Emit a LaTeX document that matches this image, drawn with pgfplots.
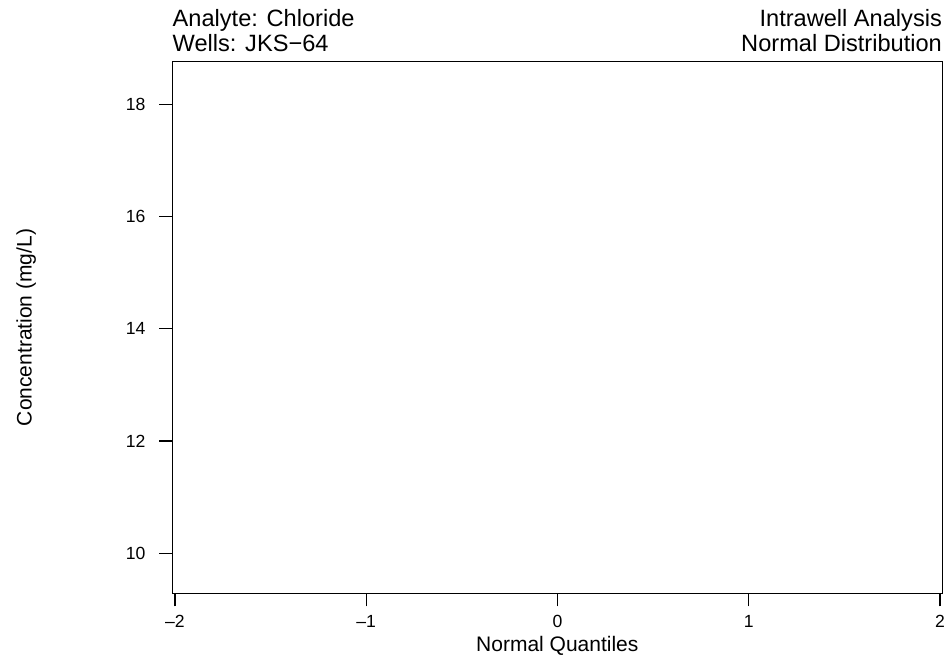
\documentclass[border=0pt]{standalone}
\usepackage{pgfplots}
\pgfplotsset{compat=1.18}
\usepackage{fontspec}
\setmainfont{Liberation Sans}

\begin{document}
\begin{tikzpicture}[x=0.5pt,y=0.5pt]
\useasboundingbox (0,0) rectangle (949,661);
\begin{axis}[
  at={(86.15pt,33.85pt)}, anchor=south west,
  width=385pt, height=265.8pt, scale only axis,
  xmin=-2.014, xmax=2.012, ymin=9.287, ymax=18.759,
  xtick={-2,-1,0,1,2},
  xticklabels={\textendash2,\textendash1,0,1,2},
  ytick={10,12,14,16,18},
  xtick pos=bottom, ytick pos=left,
  tick align=outside, major tick length=6.5pt,
  axis line style={line width=0.55pt},
  every tick/.style={black, line width=0.55pt},
  /pgf/number format/assume math mode=true,
  tick label style={font=\fontsize{8.8}{10}\selectfont},
  xticklabel style={yshift=-1pt},
  yticklabel style={xshift=-3.4pt},
]
\addplot[draw=none] coordinates {(0,14)};
\end{axis}
\begin{scope}[every node/.style={inner sep=0pt, font=\fontsize{11.8}{14}\selectfont}]
\node[anchor=base west] at (172.3,634.3) {Analyte: Chloride};
\node[anchor=base west] at (172.3,609.3) {Wells: JKS−64};
\node[anchor=base east] at (942.3,634.3) {Intrawell Analysis};
\node[anchor=base east] at (942.3,609.3) {Normal Distribution};
\end{scope}
\begin{scope}[every node/.style={inner sep=0pt, font=\fontsize{10.5}{12}\selectfont}]
\node[anchor=base] at (557.3,9.3) {Normal Quantiles};
\node[anchor=base, rotate=90] at (31.7,333.5) {Concentration (mg/L)};
\end{scope}
\end{tikzpicture}
\end{document}
